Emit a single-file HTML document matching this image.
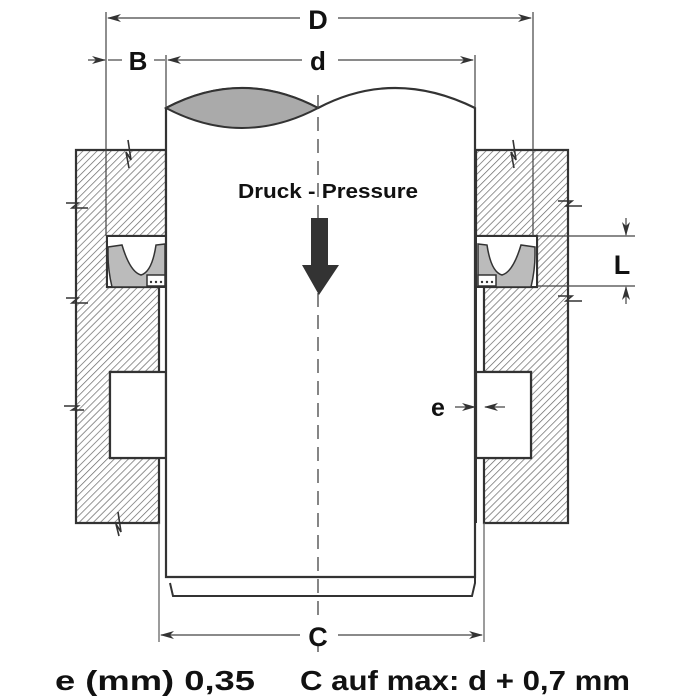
<!DOCTYPE html>
<html><head><meta charset="utf-8"><style>
html,body{margin:0;padding:0;background:#fff;}
svg{display:block;}
text{font-family:"Liberation Sans",Arial,sans-serif;font-weight:bold;fill:#111;}
</style></head><body>
<svg width="700" height="700" viewBox="0 0 700 700" xmlns="http://www.w3.org/2000/svg">
<defs>
<pattern id="h" patternUnits="userSpaceOnUse" width="5" height="5" patternTransform="rotate(45)">
<rect width="5" height="5" fill="#fff"/><line x1="0" y1="0" x2="0" y2="5" stroke="#666" stroke-width="1.4"/>
</pattern>
<marker id="a" markerWidth="14" markerHeight="8" refX="13" refY="4" orient="auto-start-reverse" markerUnits="userSpaceOnUse">
<path d="M0,0 L14,4 L0,8 L4,4 Z" fill="#333"/></marker>
</defs>
<g stroke="#333" stroke-width="2.2" fill="url(#h)">
<path d="M76,150 H166 V236 H107 V287 H159 V372 H110 V458 H159 V523 H76 Z"/>
<rect x="110" y="372" width="56" height="86" fill="#fff"/>
<path d="M476,150 H568 V523 H484 V458 H531 V372 H484 V287 H537 V236 H476 Z"/>
<rect x="476" y="372" width="55" height="86" fill="#fff"/>
</g>
<g stroke="#333" stroke-width="2" fill="#fff">
<rect x="107" y="236" width="59" height="51"/>
<rect x="476" y="236" width="61" height="51"/>
</g>
<g stroke="#333" stroke-width="1.5" fill="#bbb">
<path d="M108,247 L122,245 Q130,272 141,275 Q152,272 156,245 L165,244 V287 H112 Q108,270 108,255 Z"/>
<path d="M535,247 L521,245 Q513,272 502,275 Q491,272 487,245 L478,244 V287 H531 Q535,270 535,255 Z"/>
<rect x="147" y="275" width="18" height="11" fill="#fff"/>
<rect x="478" y="275" width="18" height="11" fill="#fff"/>
</g>
<g fill="#333"><circle cx="151" cy="282" r="1.2"/><circle cx="156" cy="282" r="1.2"/><circle cx="161" cy="282" r="1.2"/>
<circle cx="482" cy="282" r="1.2"/><circle cx="487" cy="282" r="1.2"/><circle cx="492" cy="282" r="1.2"/></g>
<path d="M166,108 Q242,68 318,108 Q394,68 475,108 V577 H166 Z" fill="#fff" stroke="#333" stroke-width="2.2"/>
<path d="M166,108 Q242,68 318,108 Q242,148 166,108 Z" fill="#aaa" stroke="#333" stroke-width="2"/>
<path d="M166,577 H475 V583 L472,596 H173 L170,583" fill="none" stroke="#333" stroke-width="2"/>
<line x1="159" y1="523" x2="159" y2="642" stroke="#666" stroke-width="1.3"/>
<line x1="484" y1="523" x2="484" y2="642" stroke="#666" stroke-width="1.3"/>
<line x1="476" y1="287" x2="476" y2="523" stroke="#333" stroke-width="2"/>
<g stroke="#333" stroke-width="1.6" fill="none">
<path d="M128,140 L131,160 L126,152 L129,168"/>
<path d="M66,203 L78,203 L72,208 L88,208"/>
<path d="M66,298 L78,298 L72,303 L88,303"/>
<path d="M64,406 L78,406 L72,410 L84,410"/>
<path d="M118,512 L121,532 L116,524 L119,536"/>
<path d="M513,140 L516,160 L511,152 L514,168"/>
<path d="M558,201 L572,201 L566,206 L582,206"/>
<path d="M558,296 L572,296 L566,301 L582,301"/>
</g>
<line x1="318" y1="95" x2="318" y2="620" stroke="#444" stroke-width="1.3" stroke-dasharray="14,8"/>
<line x1="318" y1="645" x2="318" y2="652" stroke="#444" stroke-width="1.3"/>
<g stroke="#444" stroke-width="1.2" fill="none">
<line x1="106" y1="12" x2="106" y2="236"/>
<line x1="533" y1="12" x2="533" y2="236"/>
<line x1="166" y1="55" x2="166" y2="108"/>
<line x1="475" y1="55" x2="475" y2="108"/>
<line x1="108" y1="18" x2="300" y2="18" marker-start="url(#a)"/>
<line x1="338" y1="18" x2="531" y2="18" marker-end="url(#a)"/>
<line x1="168" y1="60" x2="302" y2="60" marker-start="url(#a)"/>
<line x1="338" y1="60" x2="473" y2="60" marker-end="url(#a)"/>
<line x1="88" y1="60" x2="105" y2="60" marker-end="url(#a)"/>
<line x1="108" y1="60" x2="122" y2="60"/>
<line x1="154" y1="60" x2="165" y2="60"/>
<line x1="537" y1="236" x2="635" y2="236"/>
<line x1="537" y1="286" x2="635" y2="286"/>
<line x1="626" y1="218" x2="626" y2="235" marker-end="url(#a)"/>
<line x1="626" y1="304" x2="626" y2="287" marker-end="url(#a)"/>
<line x1="455" y1="407" x2="475" y2="407" marker-end="url(#a)"/>
<line x1="505" y1="407" x2="485" y2="407" marker-end="url(#a)"/>
<line x1="161" y1="635" x2="300" y2="635" marker-start="url(#a)"/>
<line x1="338" y1="635" x2="482" y2="635" marker-end="url(#a)"/>
</g>
<path d="M311,218 H328 V265 H339 L319,295 L302,265 H311 Z" fill="#333"/>
<text x="318" y="29" font-size="27" text-anchor="middle">D</text>
<text x="138" y="70" font-size="26" text-anchor="middle">B</text>
<text x="318" y="70" font-size="26" text-anchor="middle">d</text>
<text x="238" y="198" font-size="20" textLength="180" lengthAdjust="spacingAndGlyphs">Druck - Pressure</text>
<text x="622" y="274" font-size="27" text-anchor="middle">L</text>
<text x="438" y="416" font-size="25" text-anchor="middle">e</text>
<text x="318" y="646" font-size="27" text-anchor="middle">C</text>
<text x="55" y="690" font-size="28" textLength="200" lengthAdjust="spacingAndGlyphs">e (mm) 0,35</text>
<text x="300" y="690" font-size="28" textLength="330" lengthAdjust="spacingAndGlyphs">C auf max: d + 0,7 mm</text>
</svg>
</body></html>
